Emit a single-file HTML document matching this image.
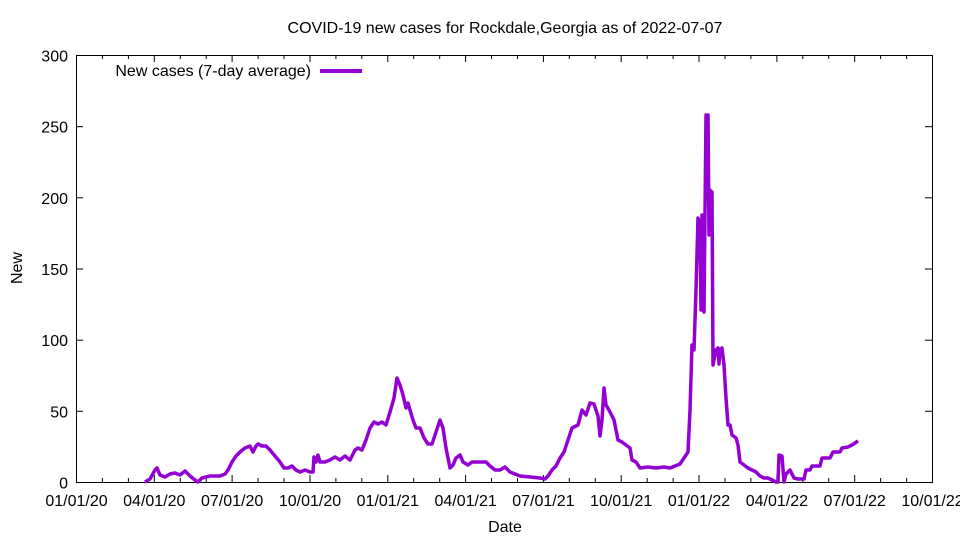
<!DOCTYPE html>
<html><head><meta charset="utf-8"><style>body{margin:0;background:#fff}svg{display:block}text{font-family:"Liberation Sans",sans-serif;font-size:16px;fill:#000}</style></head>
<body>
<svg width="960" height="540" xmlns="http://www.w3.org/2000/svg">
<text x="505" y="33" text-anchor="middle">COVID-19 new cases for Rockdale,Georgia as of 2022-07-07</text>
<text x="505" y="532" text-anchor="middle">Date</text>
<text x="22" y="268" text-anchor="middle" transform="rotate(-90 22 268)">New</text>
<g id="ticks" stroke="#000" stroke-width="1"></g>
<rect x="76.5" y="55.5" width="856" height="427" fill="none" stroke="#000" stroke-width="1"/>
<g id="yl" text-anchor="end"></g>
<g id="lbl" text-anchor="middle"></g>
<text x="311" y="76" text-anchor="end">New cases (7-day average)</text>
<line x1="320" y1="71" x2="362" y2="71" stroke="#9400D3" stroke-width="4"/>
<polyline id="pl" fill="none" stroke="#9400D3" stroke-width="3.5" stroke-linejoin="round" points="145,482 150,479 155,470 157,468 160,475 165,477 170,474 175,473 180,475 185,471 190,476 195,480 198,482 202,478 210,476 220,476 225,474 228,470 232,462 236,456 240,452 245,448 250,446 253,452 256,446 258,444 262,446 266,446 270,450 275,456 280,462 284,468 288,468 292,466 296,470 300,472 305,470 310,472 313,472 314,457 316,462 318,455 320,462 325,462 330,460 335,457 340,460 345,456 350,460 355,450 358,448 362,450 366,440 370,428 374,422 378,424 382,422 386,425 390,412 394,398 397,378 400,385 403,395 406,408 408,403 410,410 413,420 416,428 420,428 424,438 428,444 432,444 436,432 440,420 443,428 446,448 450,468 453,465 456,458 460,455 463,462 468,465 472,462 480,462 486,462 490,466 495,470 500,470 505,467 510,472 515,474 520,476 530,477 540,478 545,479 548,476 552,470 556,466 560,458 564,452 568,440 572,428 578,425 582,410 586,415 590,403 594,404 598,416 600,436 602,420 604,388 606,405 610,412 614,420 618,440 622,442 626,445 630,448 632,460 636,462 640,468 648,467 656,468 664,467 670,468 675,466 680,464 684,458 688,452 690,410 692,345 694,350 696,290 698,218 700,225 701,310 702,215 704,312 705,212 706,115 708,115 709,235 710,190 711,232 712,192 713,365 716,350 718,348 719,364 720,350 722,348 724,365 726,398 728,425 730,425 732,435 736,438 738,445 740,462 744,465 748,468 752,470 756,472 760,476 764,478 768,478 772,480 776,482 778,482 779,455 782,456 784,482 786,474 790,470 794,478 798,479 804,479 806,470 810,470 812,466 820,466 822,458 830,458 833,452 840,452 842,448 848,447 852,445 858,441"/>
</svg>
<script>
const t=document.getElementById('ticks'),l=document.getElementById('lbl');
let s='',L='';
const labs=['01/01/20','04/01/20','07/01/20','10/01/20','01/01/21','04/01/21','07/01/21','10/01/21','01/01/22','04/01/22','07/01/22','10/01/22'];
for(let m=0;m<=33;m++){const x=(76.5+m*856/33).toFixed(1);const len=m%3==0?7:4;
s+=`<line x1="${x}" y1="482" x2="${x}" y2="${482-len}"/><line x1="${x}" y1="55" x2="${x}" y2="${55+len}"/>`;
if(m%3==0)L+=`<text x="${x}" y="506">${labs[m/3]}</text>`;}
let h='';
for(let v=0;v<=300;v+=50){const y=(482.5-v*427/300).toFixed(1);s+=`<line x1="76" y1="${y}" x2="83" y2="${y}"/><line x1="932" y1="${y}" x2="925" y2="${y}"/>`;
h+=`<text x="68" y="${(+y+6).toFixed(1)}">${v}</text>`;}
t.innerHTML=s;l.innerHTML=L;document.getElementById('yl').innerHTML=h;
</script>
</body></html>
